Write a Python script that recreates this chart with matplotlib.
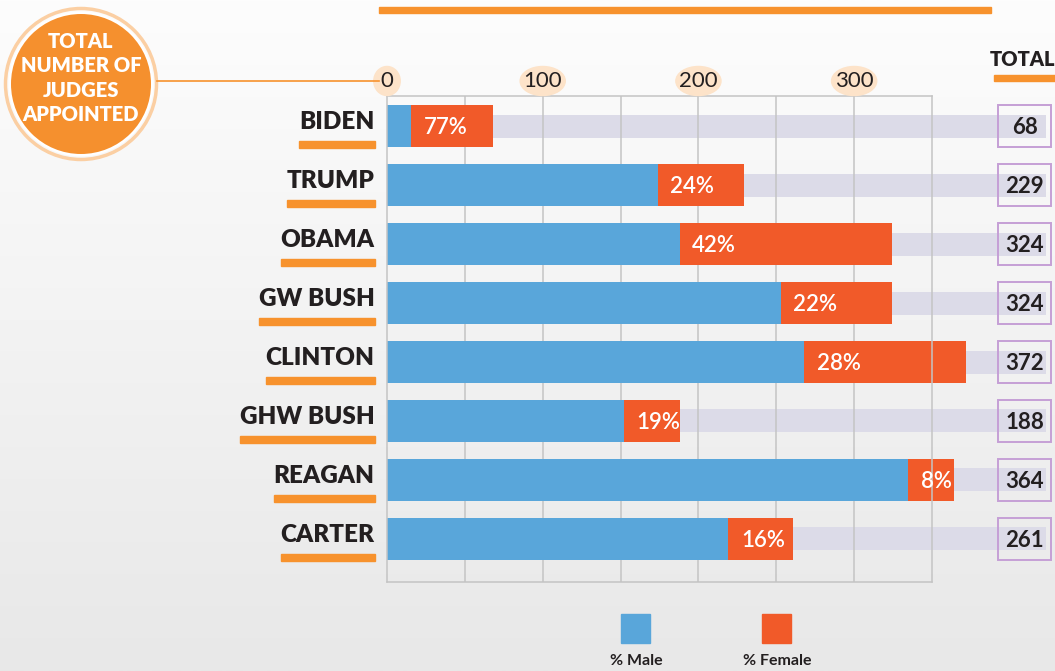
import numpy as np
import matplotlib
matplotlib.use('Agg')
import matplotlib.pyplot as plt
from matplotlib.patches import Rectangle, Ellipse, Circle
from matplotlib.transforms import blended_transform_factory

plt.rcParams['font.family'] = ['Lato', 'DejaVu Sans']

# data
presidents = ['BIDEN', 'TRUMP', 'OBAMA', 'GW BUSH', 'CLINTON', 'GHW BUSH', 'REAGAN', 'CARTER']
totals = [68, 229, 324, 324, 372, 188, 364, 261]
female_pct = [77, 24, 42, 22, 28, 19, 8, 16]
x_ticks = [0, 100, 200, 300]

male = [t * (100 - p) / 100 for t, p in zip(totals, female_pct)]
female = [t * p / 100 for t, p in zip(totals, female_pct)]

BLUE = '#59a6da'
RED = '#f15a29'
ORANGE = '#f7922d'
GREYBAR = '#dcdbe8'
DARK = '#231f20'

W, H = 1055, 671
fig = plt.figure(figsize=(W / 100, H / 100), dpi=100)

# background gradient
bg = fig.add_axes([0, 0, 1, 1], zorder=-10)
grad = np.linspace(0, 1, 256).reshape(-1, 1)
bg.imshow(grad, aspect='auto', cmap=matplotlib.colors.LinearSegmentedColormap.from_list('g', ['#fdfdfd', '#e8e8e8']),
          extent=[0, 1, 0, 1], origin='upper')
bg.axis('off')

px = lambda x, y: (x / W, 1 - y / H)

ax = fig.add_axes([387 / W, 1 - 582 / H, (932 - 387) / W, (582 - 96) / H])
ax.set_facecolor('none')
ax.set_xlim(0, 350)
ax.set_ylim(7.73, -0.51)
y = np.arange(len(presidents))

# long grey track bars running out to the totals
ax.barh(y, 423, height=0.39, color=GREYBAR, zorder=1, clip_on=False)
for gx in range(50, 350, 50):
    ax.axvline(gx, color='#c4c4c4', lw=1.1, zorder=1.5)
ax.barh(y, male, height=0.71, color=BLUE, zorder=2, clip_on=False)
ax.barh(y, female, left=male, height=0.71, color=RED, zorder=2, clip_on=False)

for i in range(len(presidents)):
    ax.text(male[i] + 8, y[i] + 0.02, f'{female_pct[i]}%', color='white', fontsize=16, fontweight=600,
            va='center', ha='left', zorder=3, clip_on=False)
    ax.add_patch(Rectangle((392.5, y[i] - 0.355), 34, 0.71, fill=False, ec='#c59fd6', lw=1.4,
                           clip_on=False, zorder=3))
    ax.text(409.5, y[i] + 0.03, str(totals[i]), fontsize=16, fontweight='bold', color=DARK,
            ha='center', va='center', clip_on=False, zorder=4)

for s in ax.spines.values():
    s.set_color('#c4c4c4')
    s.set_linewidth(1.1)
ax.set_xticks([])
ax.set_yticks([])

# top tick labels with peach ovals
tr = blended_transform_factory(ax.transData, fig.transFigure)
for t in x_ticks:
    w = 17 if t == 0 else 29
    fig.patches.append(Ellipse((t, 1 - 81 / H), w, 29 / H, transform=tr, color='#fde3c9', zorder=1))
    fig.text(0, 1 - 81 / H, str(t), transform=tr, fontsize=16, color=DARK, ha='center', va='center')
    fig.texts[-1].set_x(t)

# president labels with orange underlines
labels = []
for i, name in enumerate(presidents):
    labels.append(ax.text(-8, y[i] - 0.07, name, fontsize=17.5, fontweight='heavy', color=DARK,
                          ha='right', va='center', clip_on=False))
fig.canvas.draw()
r = fig.canvas.get_renderer()
ytr = blended_transform_factory(fig.transFigure, ax.transData)
for i, t in enumerate(labels):
    bb = t.get_window_extent(r).transformed(fig.transFigure.inverted())
    fig.patches.append(Rectangle((bb.x0, y[i] + 0.26), bb.x1 - bb.x0, 0.12, transform=ytr,
                                 color=ORANGE, zorder=2))

# TOTAL header
fig.text(*px(1023, 60), 'TOTAL', fontsize=14.5, fontweight='heavy', color=DARK, ha='center', va='center')
fig.patches.append(Rectangle(px(994, 81), 61 / W, 6 / H, color=ORANGE, transform=fig.transFigure))

# top orange rule
fig.patches.append(Rectangle(px(379, 13), (991 - 379) / W, 6 / H, color=ORANGE, transform=fig.transFigure))

# badge
fig.lines.append(plt.Line2D([157 / W, 379 / W], [1 - 81 / H] * 2, color=ORANGE, lw=1.2,
                            transform=fig.transFigure))
cx, cy = 81 / 100, (H - 84) / 100
for rad, kw in [(0.755, dict(fc='none', ec='#fbcfa3', lw=2.5)),
                (0.725, dict(fc='white', ec='none')),
                (0.70, dict(fc='#f5902e', ec='none'))]:
    fig.patches.append(Circle((cx, cy), rad, transform=fig.dpi_scale_trans, **kw))
fig.text(*px(81, 78), 'TOTAL\nNUMBER OF\nJUDGES\nAPPOINTED', fontsize=14.5, fontweight='heavy',
         color='white', ha='center', va='center', linespacing=1.32)

# legend
fig.patches.append(Rectangle(px(621, 643), 29 / W, 29 / H, color=BLUE, transform=fig.transFigure))
fig.patches.append(Rectangle(px(762, 643), 29 / W, 29 / H, color=RED, transform=fig.transFigure))
fig.text(*px(636, 661), '% Male', fontsize=11.5, fontweight='bold', color=DARK, ha='center', va='center')
fig.text(*px(777, 661), '% Female', fontsize=11.5, fontweight='bold', color=DARK, ha='center', va='center')

fig.savefig('out.png', dpi=100)
